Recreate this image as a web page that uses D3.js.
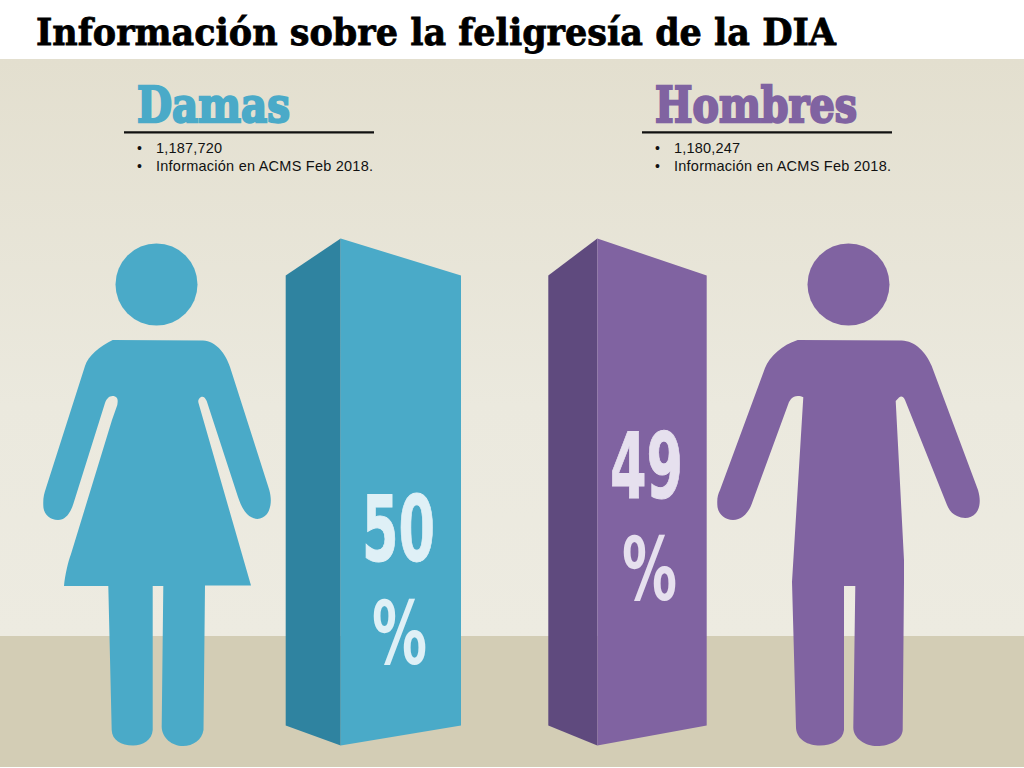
<!DOCTYPE html>
<html>
<head>
<meta charset="utf-8">
<script src="https://cdn.jsdelivr.net/npm/d3@7"></script>
<style>
  html, body { margin: 0; padding: 0; background: #fff; }
  svg { display: block; }
</style>
</head>
<body>
<div id="chart"></div>
<script>
// Data
var categories = ["Damas", "Hombres"];
var members = ["1,187,720", "1,180,247"];
var percents = ["50", "49"];
var barLevels = [100, 100];   // both columns are drawn the same height in the original
var sourceNote = "Información en ACMS Feb 2018.";
var titleText = "Información sobre la feligresía de la DIA";

var colors = ["#4aaac8", "#8063a1"];
var darkColors = ["#2f83a0", "#5f4a7e"];
var pctColors = ["#dff0f6", "#e6e0ee"];

var w = 1024, h = 768;

var svg = d3.select("#chart").append("svg")
    .attr("width", w)
    .attr("height", h);

// Background
var grad = svg.append("defs").append("linearGradient")
    .attr("id", "wall").attr("x1", 0).attr("x2", 0).attr("y1", 0).attr("y2", 1);
grad.append("stop").attr("offset", "0%").attr("stop-color", "#e3dfcf");
grad.append("stop").attr("offset", "60%").attr("stop-color", "#ebe9de");
grad.append("stop").attr("offset", "100%").attr("stop-color", "#edebe1");

svg.append("rect").attr("x", 0).attr("y", 59).attr("width", w).attr("height", 577).attr("fill", "url(#wall)");
svg.append("rect").attr("x", 0).attr("y", 636).attr("width", w).attr("height", 131).attr("fill", "#d3cdb5");

// Title
svg.append("text")
    .attr("x", 36).attr("y", 45)
    .attr("textLength", 800).attr("lengthAdjust", "spacingAndGlyphs")
    .attr("font-family", "DejaVu Serif").attr("font-weight", "bold")
    .attr("font-size", 37).attr("fill", "#000").attr("stroke", "#000").attr("stroke-width", 0.8)
    .text(titleText);

// Scales
var y = d3.scaleLinear().domain([0, 100]).range([745.5, 238.5]);
var x = d3.scaleOrdinal().domain(categories).range([285.7, 548.3]);
var spine = d3.scaleOrdinal().domain(categories).range([340.7, 597.3]);
var right = d3.scaleOrdinal().domain(categories).range([461, 706.7]);
var headerX = d3.scaleOrdinal().domain(categories).range([124, 642]);

var shoulderDrop = 37, footRise = 20;

var line = d3.line();

// Columns
categories.forEach(function(c, i) {
    var top = y(barLevels[i]), base = y(0);

    svg.append("path")
        .attr("fill", darkColors[i])
        .attr("d", line([[x(c), top + shoulderDrop], [spine(c), top], [spine(c), base], [x(c), base - footRise]]) + "Z");

    svg.append("path")
        .attr("fill", colors[i])
        .attr("d", line([[spine(c), top], [right(c), top + shoulderDrop], [right(c), base - footRise], [spine(c), base]]) + "Z");
});

// Percent labels
var pctY = [[561, 663.5], [498, 600]];
var pctX = [[362, 372], [610, 622]];
categories.forEach(function(c, i) {
    svg.append("text")
        .attr("x", pctX[i][0]).attr("y", pctY[i][0])
        .attr("textLength", 73).attr("lengthAdjust", "spacingAndGlyphs")
        .attr("font-family", "DejaVu Sans").attr("font-weight", "bold")
        .attr("font-size", 90).attr("fill", pctColors[i])
        .attr("stroke", pctColors[i]).attr("stroke-width", 1)
        .text(percents[i]);
    svg.append("text")
        .attr("x", pctX[i][1]).attr("y", pctY[i][1])
        .attr("textLength", 55).attr("lengthAdjust", "spacingAndGlyphs")
        .attr("font-family", "DejaVu Sans").attr("font-weight", "bold")
        .attr("font-size", 88).attr("fill", pctColors[i])
        .text("%");
});

// Headers and bullet lists
categories.forEach(function(c, i) {
    var hx = headerX(c);

    svg.append("text")
        .attr("x", hx + 13).attr("y", 122)
        .attr("textLength", i == 0 ? 153 : 202).attr("lengthAdjust", "spacingAndGlyphs")
        .attr("font-family", "DejaVu Serif").attr("font-weight", "bold")
        .attr("font-size", 49).attr("fill", colors[i]).attr("stroke", colors[i]).attr("stroke-width", 2.4)
        .text(c);

    svg.append("line")
        .attr("x1", hx).attr("x2", hx + 250)
        .attr("y1", 132.3).attr("y2", 132.3)
        .attr("stroke", "#111").attr("stroke-width", 2.2);

    [members[i], sourceNote].forEach(function(t, j) {
        var ly = 152.5 + j * 18.5;
        svg.append("text")
            .attr("x", hx + 13).attr("y", ly)
            .attr("font-family", "Liberation Sans").attr("font-size", 14).attr("fill", "#111")
            .text("•");
        svg.append("text")
            .attr("x", hx + 32).attr("y", ly)
            .attr("font-family", "Liberation Sans").attr("font-size", 14.5).attr("fill", "#111")
            .attr("textLength", j == 1 ? 217 : 66)
            .text(t);
    });
});

// Figures
var woman = "M112.7 340 L203 340.5 C216 341 226 354 230 367 L269.3 490 C272 500 271 508 267 514 C262 520 254 521 247 514 C243 510 240 503 238 497 L206.7 401 C205 397 203 396 201 397 C198 399 198 401 198.5 403 L251 585.6 L205 585.6 L203.5 730 C202 740 193 746 183 746 C172 746 162 738 161.7 727 L163.3 586 L152.7 586 L152.7 730 C152 740 143 745.5 133 745.5 C121 745.5 112 740 111.7 730 L108.3 586 L64 586 C65 575 68 562 71 554 L112 420 L117.3 405 C118 400 118 398 115 396.5 C110 395 107 398 105 403 L73.3 504 C70 514 65 520 58 520 C49 520 43 513 43.3 505 C43 498 44 494 46 488 L85 366 C88 356 100 346 112.7 340 Z";
var man = "M797.7 340 L901.7 340.5 C915 341 926 352 931.7 366 L978 490 C981 500 980 508 976 513 C971 519 963 519 957 516 C952 514 949 510 947 505 L905 400 C903 396 901 396 899 397.5 L895.7 401 L904 560 L904 582 L902.7 730 C902 740 890 746 877 746 C865 746 853 738 853.3 727 L855.3 586 L844 586 L844 730 C843 740 832 745.5 820 745.5 C808 745.5 797 740 796 728 L792 582 L803.3 397.3 C800 395.5 794 395 791 399 L789 402 L751.7 504 C749 512 742 520 733 520 C724 520 717 513 717.3 504 C717 498 718 494 720 490 L765 368 C770 356 782 345 797.7 340 Z";

svg.append("circle").attr("cx", 156.5).attr("cy", 284.5).attr("r", 41).attr("fill", colors[0]);
svg.append("circle").attr("cx", 848.5).attr("cy", 284.5).attr("r", 41).attr("fill", colors[1]);
svg.append("path").attr("d", woman).attr("fill", colors[0]);
svg.append("path").attr("d", man).attr("fill", colors[1]);
</script>
</body>
</html>
